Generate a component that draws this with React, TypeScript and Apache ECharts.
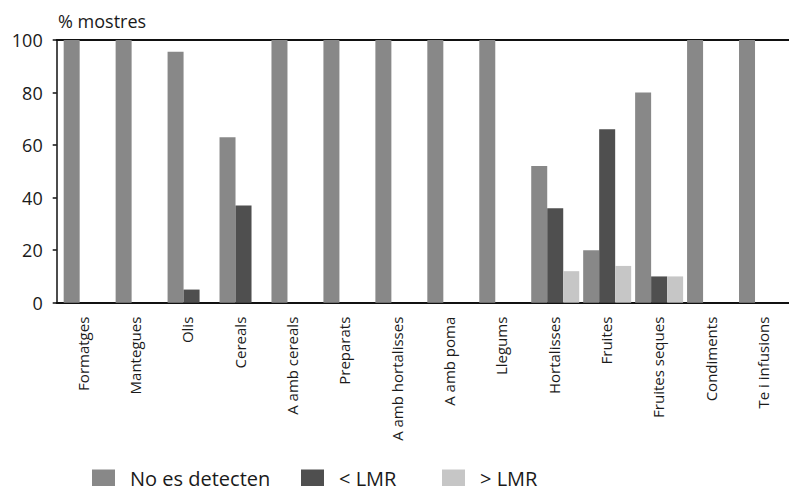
import React, { useEffect, useRef } from "react";
import * as echarts from "echarts";

const categories = [
  "Formatges",
  "Mantegues",
  "Olis",
  "Cereals",
  "A amb cereals",
  "Preparats",
  "A amb hortalisses",
  "A amb poma",
  "Llegums",
  "Hortalisses",
  "Fruites",
  "Fruites seques",
  "Condiments",
  "Te i infusions",
];
const noDetected = [100, 100, 95.5, 63, 100, 100, 100, 100, 100, 52, 20, 80, 100, 100];
const belowLMR = [0, 0, 5, 37, 0, 0, 0, 0, 0, 36, 66, 10, 0, 0];
const aboveLMR = [0, 0, 0, 0, 0, 0, 0, 0, 0, 12, 14, 10, 0, 0];
const seriesNames = ["No es detecten", "< LMR", "> LMR"];
const yMin = 0;
const yMax = 100;
const yStep = 20;

const FONT = "'Open Sans', 'Noto Sans', sans-serif";
const TEXT = "#1a1a1a";
const COLORS = ["#888888", "#4f4f4f", "#c6c6c6"];

export default function App() {
  const ref = useRef<HTMLDivElement>(null);
  useEffect(() => {
    if (!ref.current) return;
    const chart = echarts.init(ref.current, undefined, { renderer: "svg" });
    const gridTop = 40;
    const gridHeight = 262.7;
    const gridWidth = 737.8;
    const legendLefts = [92, 301, 442];
    const legendBase = {
      top: 468,
      padding: 0,
      itemWidth: 23,
      itemHeight: 17,
      icon: "rect",
      textStyle: {
        fontFamily: FONT,
        fontSize: 20,
        lineHeight: 17,
        color: TEXT,
        padding: [0, 0, 0, 10],
      },
    };
    chart.setOption({
      animation: false,
      backgroundColor: "#ffffff",
      textStyle: { fontFamily: FONT },
      title: {
        text: "% mostres",
        left: 53,
        top: 7,
        textStyle: { fontFamily: FONT, fontSize: 18, fontWeight: "normal", color: TEXT },
      },
      legend: seriesNames.map((n, i) => ({ ...legendBase, left: legendLefts[i], data: [n] })),
      grid: [
        { left: 56.7, top: gridTop, width: gridWidth, height: gridHeight },
        { left: 61.7, top: gridTop, width: gridWidth, height: gridHeight },
      ],
      xAxis: [
        {
          type: "category",
          gridIndex: 0,
          position: "bottom",
          data: categories,
          axisLine: { show: true, lineStyle: { color: "#111", width: 2 } },
          axisTick: { show: false },
          axisLabel: {
            rotate: 90,
            margin: 14,
            interval: 0,
            fontSize: 15,
            fontFamily: FONT,
            color: TEXT,
          },
        },
        {
          type: "category",
          gridIndex: 0,
          position: "top",
          data: categories,
          axisLine: { show: true, lineStyle: { color: "#111", width: 2 } },
          axisTick: { show: false },
          axisLabel: { show: false },
        },
        {
          type: "category",
          gridIndex: 1,
          data: categories,
          show: false,
        },
      ],
      yAxis: [
        {
          type: "value",
          gridIndex: 0,
          min: yMin,
          max: yMax,
          interval: yStep,
          axisLine: { show: true, lineStyle: { color: "#111", width: 1.5 } },
          axisTick: { show: true, length: 4, lineStyle: { color: "#111", width: 1.5 } },
          axisLabel: { margin: 14, fontSize: 18, fontFamily: FONT, color: TEXT },
          splitLine: { show: false },
        },
        {
          type: "value",
          gridIndex: 1,
          min: yMin,
          max: yMax,
          show: false,
          splitLine: { show: false },
        },
      ],
      series: [noDetected, belowLMR, aboveLMR].map((d, i) => ({
        name: seriesNames[i],
        type: "bar",
        xAxisIndex: 2,
        yAxisIndex: 1,
        data: d,
        barWidth: 16,
        barGap: "0%",
        itemStyle: { color: COLORS[i] },
      })),
    });
    return () => chart.dispose();
  }, []);
  return (
    <div
      ref={ref}
      style={{ position: "fixed", left: 0, top: 0, width: 789, height: 486, background: "#fff" }}
    />
  );
}
